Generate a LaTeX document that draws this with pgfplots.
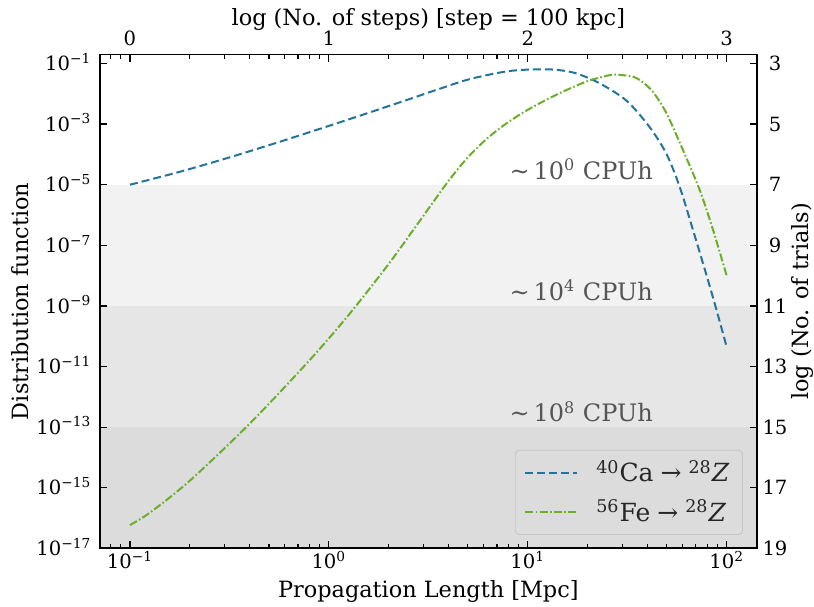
\documentclass[border=0pt]{standalone}
\usepackage{fontspec}
\setmainfont{DejaVu Serif}
\usepackage{pgfplots}
\pgfplotsset{compat=1.18}

\definecolor{cablue}{HTML}{23749A}
\definecolor{fegreen}{HTML}{6AAE2A}
\definecolor{bandA}{HTML}{F2F2F2}
\definecolor{bandB}{HTML}{E6E6E6}
\definecolor{bandC}{HTML}{DCDCDC}
\definecolor{annot}{HTML}{555555}
\newcommand{\sci}[1]{10\textsuperscript{#1}}
\newcommand{\arr}{\hspace{0.28em}→\hspace{0.28em}}
\newcommand{\labfont}{\fontsize{11.2}{13}\selectfont}

\pgfplotsset{
  common/.style={
    width=328.35pt, height=246.9pt, scale only axis,
    xmin=0.0707, xmax=141.6, ymin=1e-17, ymax=0.198,
    tick align=inside,
    major tick length=3.5pt, minor tick length=2.2pt,
    every tick/.style={black, line width=0.6pt},
    axis line style={line width=0.9pt},
    tick label style={font=\fontsize{9.8}{11}\selectfont},
    xtick={0.1,1,10,100},
    minor xtick={0.08,0.09,0.2,0.3,0.4,0.5,0.6,0.7,0.8,0.9,2,3,4,5,6,7,8,9,20,30,40,50,60,70,80,90},
    ytick={1e-1,1e-3,1e-5,1e-7,1e-9,1e-11,1e-13,1e-15,1e-17},
    axis on top,
  }
}

\begin{document}
\begin{tikzpicture}
\begin{loglogaxis}[common,
  xtick pos=left, ytick pos=left,
  xticklabels={\sci{−1},\sci{0},\sci{1},\sci{2}},
  yticklabels={\sci{−1},\sci{−3},\sci{−5},\sci{−7},\sci{−9},\sci{−11},\sci{−13},\sci{−15},\sci{−17}},
  xticklabel style={anchor=base, yshift=-10pt},
  yticklabel style={anchor=base east, yshift=-3.55pt, xshift=-0.8pt},
  legend style={at={(0.979,0.027)}, anchor=south east, draw=gray!45, fill=bandC,
    rounded corners=2pt, font=\fontsize{12.5}{15}\selectfont, text=black!85,
    inner xsep=4.5pt, inner ysep=3pt, row sep=3.5pt},
  legend cell align=left,
  legend image code/.code={\draw[#1] (0pt,0pt) -- (26pt,0pt);},
  /tikz/every odd column/.append style={column sep=7pt},
]
\coordinate (sw) at (rel axis cs:0,0);
\coordinate (ne) at (rel axis cs:1,1);
\coordinate (lm) at (rel axis cs:0,0.5);
\coordinate (rm) at (rel axis cs:1,0.5);
\coordinate (bm) at (rel axis cs:0.5,0);
\coordinate (tm) at (rel axis cs:0.5,1);

\addplot[fill=bandA, draw=none, forget plot] coordinates {(0.0707,1e-9) (141.6,1e-9) (141.6,1e-5) (0.0707,1e-5)} -- cycle;
\addplot[fill=bandB, draw=none, forget plot] coordinates {(0.0707,1e-13) (141.6,1e-13) (141.6,1e-9) (0.0707,1e-9)} -- cycle;
\addplot[fill=bandC, draw=none, forget plot] coordinates {(0.0707,1e-17) (141.6,1e-17) (141.6,1e-13) (0.0707,1e-13)} -- cycle;

\addplot[cablue, line width=1pt, dash pattern=on 4pt off 2pt, smooth, tension=0.5] coordinates {
(0.1,1e-5) (0.1778,2.661e-5) (0.3162,7.943e-5) (0.5623,2.570e-4) (1,8.710e-4)
(1.585,2.366e-3) (2.512,6.516e-3) (3.548,1.413e-2) (5.012,2.951e-2) (7.079,4.898e-2)
(8.913,6.026e-2) (12.02,6.457e-2) (14.45,6.026e-2) (17.62,4.677e-2) (23.07,2.188e-2)
(31.41,5.888e-3) (41.11,7.762e-4) (49.89,1.023e-4) (58.21,8.128e-6) (67.92,3.020e-7)
(80.72,6.761e-9) (89.13,6.918e-10) (100,4.467e-11)
};
\addlegendentry{\textsuperscript{40}Ca\arr\textsuperscript{28}\textit{Z}}

\addplot[fegreen, line width=1pt, dash pattern=on 4pt off 1.2pt on 0.8pt off 1.2pt, smooth, tension=0.5] coordinates {
(0.1,5.888e-17) (0.1259,1.496e-16) (0.1995,1.679e-15) (0.3981,1.259e-13) (0.7943,1.531e-11)
(1.259,5.070e-10) (1.995,2.371e-8) (2.818,5.495e-7) (3.981,1.288e-5) (5.012,8.128e-5)
(6.310,3.548e-4) (7.943,1.135e-3) (10,2.951e-3) (12.59,6.683e-3) (15.85,1.380e-2)
(19.95,2.600e-2) (25.12,3.981e-2) (28.18,4.266e-2) (33.96,3.631e-2) (38.02,2.344e-2)
(42.76,1.122e-2) (49.89,2.239e-3) (60.53,1.318e-4) (73.45,6.310e-6) (85.70,3.020e-7)
(100,1.000e-8)
};
\addlegendentry{\textsuperscript{56}Fe\arr\textsuperscript{28}\textit{Z}}

\node[anchor=base east, inner sep=0pt, text=annot, font=\fontsize{12}{14}\selectfont, yshift=2.65pt] at (axis cs:42.7,1e-5) {∼\,\sci{0} CPUh};
\node[anchor=base east, inner sep=0pt, text=annot, font=\fontsize{12}{14}\selectfont, yshift=2.65pt] at (axis cs:42.7,1e-9) {∼\,\sci{4} CPUh};
\node[anchor=base east, inner sep=0pt, text=annot, font=\fontsize{12}{14}\selectfont, yshift=2.65pt] at (axis cs:42.7,1e-13) {∼\,\sci{8} CPUh};
\end{loglogaxis}

\begin{loglogaxis}[common,
  xtick pos=right, ytick pos=right,
  xticklabel pos=right, yticklabel pos=right,
  xticklabels={0,1,2,3},
  yticklabels={3,5,7,9,11,13,15,17,19},
  xticklabel style={anchor=base, yshift=4.75pt},
  yticklabel style={anchor=base, yshift=-3.55pt, xshift=9.15pt},
]
\addplot[draw=none, forget plot] coordinates {(1,1e-5) (10,1e-3)};
\end{loglogaxis}

\node[anchor=base, font=\labfont] at ([yshift=-24.6pt]bm) {Propagation Length [Mpc]};
\node[anchor=base, font=\labfont] at ([yshift=14.75pt]tm) {log (No. of steps) [step = 100 kpc]};
\node[anchor=base, rotate=90, font=\labfont] at ([xshift=-35.85pt]lm) {Distribution function};
\node[anchor=base, rotate=90, font=\labfont] at ([xshift=25.8pt]rm) {log (No. of trials)};

\pgfresetboundingbox
\useasboundingbox ([shift={(-50pt,-28.85pt)}]sw) rectangle ([shift={(28.65pt,27.25pt)}]ne);
\end{tikzpicture}
\end{document}
